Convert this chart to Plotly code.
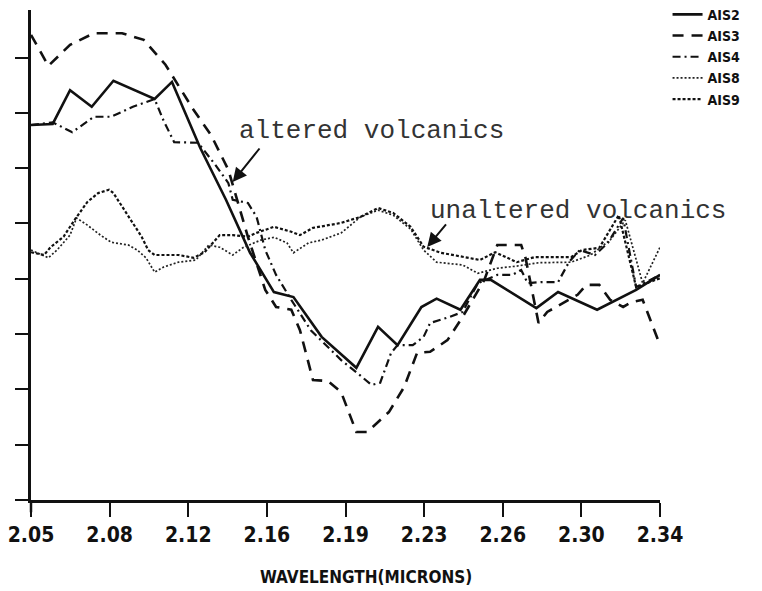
import plotly.graph_objects as go

# ---- data (wavelength in microns, relative reflectance units) ----
x_ais2 = [2.050, 2.060, 2.068, 2.078, 2.088, 2.107, 2.115, 2.128, 2.140, 2.151, 2.162, 2.171, 2.184,
          2.200, 2.210, 2.219, 2.230, 2.237, 2.248, 2.257, 2.262, 2.283, 2.293, 2.311, 2.329, 2.340]
y_ais2 = [6.78, 6.80, 7.41, 7.11, 7.58, 7.25, 7.56, 6.37, 5.42, 4.47, 3.76, 3.67, 2.95,
          2.39, 3.13, 2.80, 3.49, 3.64, 3.44, 3.98, 3.98, 3.47, 3.76, 3.44, 3.80, 4.07]

x_ais3 = [2.050, 2.058, 2.068, 2.079, 2.092, 2.102, 2.112, 2.125, 2.133, 2.141,
          2.150, 2.158, 2.163, 2.170, 2.174, 2.180, 2.187, 2.193, 2.200, 2.205,
          2.215, 2.222, 2.228, 2.234, 2.242, 2.249, 2.259, 2.265, 2.276, 2.278,
          2.284, 2.288, 2.302, 2.306, 2.312, 2.317, 2.323, 2.327, 2.332, 2.340]
y_ais3 = [8.41, 7.85, 8.23, 8.44, 8.44, 8.32, 7.87, 7.05, 6.60, 5.97,
          4.76, 3.80, 3.49, 3.44, 3.07, 2.17, 2.15, 1.95, 1.23, 1.23,
          1.59, 2.04, 2.66, 2.68, 2.89, 3.31, 3.98, 4.61, 4.61, 4.38,
          3.20, 3.40, 3.71, 3.89, 3.89, 3.62, 3.49, 3.58, 3.62, 2.80]

x_ais4 = [2.050, 2.060, 2.069, 2.079, 2.087, 2.097, 2.107, 2.111, 2.116, 2.127,
          2.135, 2.141, 2.143, 2.150, 2.154, 2.158, 2.163, 2.170, 2.179, 2.193,
          2.200, 2.207, 2.211, 2.216, 2.219, 2.226, 2.231, 2.234, 2.243, 2.249,
          2.256, 2.265, 2.272, 2.276, 2.279, 2.285, 2.293, 2.298, 2.303, 2.310,
          2.316, 2.323, 2.329, 2.340]
y_ais4 = [6.78, 6.83, 6.65, 6.93, 6.93, 7.11, 7.25, 6.87, 6.47, 6.46,
          6.06, 5.73, 5.43, 5.37, 5.12, 4.52, 4.07, 3.62, 3.07, 2.53,
          2.31, 2.08, 2.12, 2.66, 2.80, 2.80, 2.95, 3.20, 3.31, 3.40,
          3.92, 4.07, 4.07, 4.16, 3.92, 3.94, 3.94, 4.30, 4.52, 4.43,
          4.65, 5.10, 3.85, 4.07]

x_ais8 = [2.050, 2.058, 2.062, 2.068, 2.071, 2.076, 2.082, 2.087, 2.095, 2.099,
          2.103, 2.107, 2.111, 2.118, 2.126, 2.132, 2.137, 2.143, 2.148, 2.156,
          2.162, 2.168, 2.171, 2.178, 2.184, 2.193, 2.202, 2.210, 2.217, 2.225,
          2.231, 2.237, 2.249, 2.256, 2.265, 2.274, 2.284, 2.299, 2.308, 2.317,
          2.324, 2.332, 2.340]
y_ais8 = [4.52, 4.38, 4.52, 4.79, 5.10, 4.97, 4.79, 4.66, 4.61, 4.52,
          4.38, 4.12, 4.21, 4.30, 4.34, 4.61, 4.57, 4.43, 4.57, 4.70,
          4.75, 4.65, 4.47, 4.65, 4.70, 4.83, 5.12, 5.24, 5.15, 4.90,
          4.52, 4.30, 4.25, 4.10, 4.19, 4.23, 4.29, 4.30, 4.43, 4.70,
          5.06, 3.92, 4.57]

x_ais9 = [2.050, 2.056, 2.059, 2.065, 2.070, 2.076, 2.081, 2.086, 2.088, 2.091,
          2.096, 2.101, 2.104, 2.107, 2.118, 2.125, 2.130, 2.134, 2.137, 2.143,
          2.150, 2.154, 2.162, 2.170, 2.174, 2.180, 2.193, 2.202, 2.210, 2.217,
          2.225, 2.231, 2.239, 2.257, 2.264, 2.274, 2.282, 2.299, 2.304, 2.312,
          2.321, 2.329, 2.340]
y_ais9 = [4.48, 4.43, 4.57, 4.76, 5.06, 5.39, 5.55, 5.61, 5.55, 5.37,
          5.06, 4.76, 4.52, 4.43, 4.43, 4.38, 4.48, 4.66, 4.79, 4.79,
          4.76, 4.83, 4.94, 4.85, 4.79, 4.92, 5.01, 5.12, 5.28, 5.19,
          4.94, 4.58, 4.47, 4.34, 4.48, 4.30, 4.39, 4.39, 4.52, 4.56,
          5.15, 3.85, 4.01]

x_tickvals = [2.05, 2.08625, 2.1225, 2.15875, 2.195, 2.23125, 2.2675, 2.30375, 2.34]
x_ticktext = ["2.05", "2.08", "2.12", "2.16", "2.19", "2.23", "2.26", "2.30", "2.34"]
y_tickvals = [0, 1, 2, 3, 4, 5, 6, 7, 8]

series = [
    ("AIS2", x_ais2, y_ais2, dict(color="#111", width=2.6, dash="solid")),
    ("AIS3", x_ais3, y_ais3, dict(color="#111", width=2.6, dash="11px,8px")),
    ("AIS4", x_ais4, y_ais4, dict(color="#111", width=2.2, dash="8px,4px,2px,4px")),
    ("AIS8", x_ais8, y_ais8, dict(color="#222", width=1.7, dash="2px,2px")),
    ("AIS9", x_ais9, y_ais9, dict(color="#111", width=2.2, dash="3px,2px")),
]

fig = go.Figure()
for name, xs, ys, ln in series:
    fig.add_trace(go.Scatter(x=xs, y=ys, mode="lines", name=name, line=ln))

narrow = "Liberation Sans Narrow, DejaVu Sans Condensed, Liberation Sans, sans-serif"
tick_font = dict(family=narrow, size=21, color="#111", weight="bold")

fig.update_layout(
    width=762, height=591,
    margin=dict(l=31, r=102, t=10, b=91, autoexpand=False),
    paper_bgcolor="white", plot_bgcolor="white",
    showlegend=True,
    legend=dict(x=1.012, xanchor="left", y=1.023, yanchor="top",
                bgcolor="rgba(0,0,0,0)", borderwidth=0,
                font=dict(family=narrow, size=14, color="#111", weight="bold"),
                tracegroupgap=0, itemwidth=30),
    xaxis=dict(range=[2.05, 2.34], tickmode="array", tickvals=x_tickvals, ticktext=x_ticktext,
               showgrid=False, zeroline=False, showline=True, linecolor="#111", linewidth=2.5,
               ticks="outside", ticklen=14, tickwidth=2.2, tickcolor="#111", automargin=False,
               tickfont=tick_font, ticklabelstandoff=0),
    yaxis=dict(range=[0, 8.86], tickmode="array", tickvals=y_tickvals, showticklabels=False,
               showgrid=False, zeroline=False, showline=True, linecolor="#111", linewidth=2.5,
               ticks="outside", ticklen=13, tickwidth=2.2, tickcolor="#111", automargin=False),
    font=dict(color="#111"),
)

# y-axis line extends a little below the x-axis
fig.add_shape(type="line", xref="paper", yref="paper", x0=0, x1=0, y0=0, y1=-0.025,
              line=dict(color="#111", width=2.5))

mono = dict(family="Courier New, Liberation Mono, monospace", size=26, color="#333")
fig.add_annotation(x=0.542, y=0.753, xref="paper", yref="paper", text="altered volcanics",
                   xanchor="center", yanchor="middle", showarrow=False, font=mono)
fig.add_annotation(x=0.870, y=0.590, xref="paper", yref="paper", text="unaltered volcanics",
                   xanchor="center", yanchor="middle", showarrow=False, font=mono)
fig.add_annotation(x=2.143, y=5.75, ax=28, ay=-35, xref="x", yref="y", text="",
                   showarrow=True, arrowhead=2, arrowsize=1.4, arrowwidth=2, arrowcolor="#111")
fig.add_annotation(x=2.2327, y=4.575, ax=20, ay=-24, xref="x", yref="y", text="",
                   showarrow=True, arrowhead=2, arrowsize=1.4, arrowwidth=2, arrowcolor="#111")

fig.add_annotation(x=0.532, y=-0.157, xref="paper", yref="paper", text="WAVELENGTH(MICRONS)",
                   xanchor="center", yanchor="middle", showarrow=False,
                   font=dict(family=narrow, size=17, color="#111", weight="bold"))

fig.write_html("out.html", config={"displayModeBar": False},
               post_script="document.body.style.margin='0px';")
